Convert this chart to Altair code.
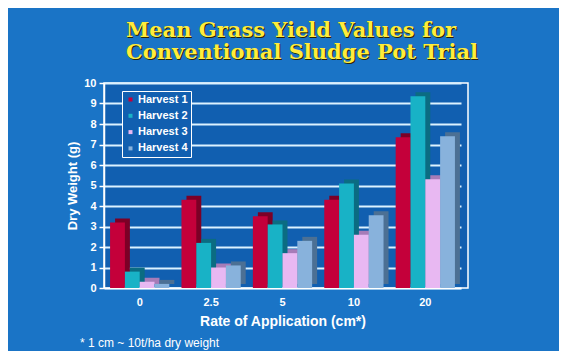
import altair as alt
import pandas as pd

rates = ["0", "2.5", "5", "10", "20"]
harvests = ["Harvest 1", "Harvest 2", "Harvest 3", "Harvest 4"]
h1 = [3.2, 4.3, 3.5, 4.3, 7.35]
h2 = [0.8, 2.2, 3.1, 5.1, 9.35]
h3 = [0.3, 1.0, 1.7, 2.6, 5.3]
h4 = [0.2, 1.1, 2.3, 3.55, 7.4]

front_colors = ["#c4003a", "#18b2c6", "#e8b8f2", "#88b2dc"]
side_colors = ["#7c0026", "#0b6c82", "#a67cb8", "#4c7094"]

title_lines = "Mean Grass Yield Values for\nConventional Sludge Pot Trial"
footnote = "* 1 cm ~ 10t/ha dry weight"

rows = []
for series_name, vals in zip(harvests, [h1, h2, h3, h4]):
    for r, v in zip(rates, vals):
        rows.append({"rate": r, "harvest": series_name, "value": v})
df = pd.DataFrame(rows)

BG = "#1a74c6"
PLOT_BG = "#115fb0"
FONT = "Liberation Sans"
BW = 357 / 5 * (1 - 0.17)

x_enc = alt.X("rate:N", sort=rates,
              scale=alt.Scale(range=[0, 357], paddingInner=0.17, paddingOuter=0.085),
              axis=alt.Axis(title="Rate of Application (cm*)", labelAngle=0, ticks=False,
                            labelPadding=8, titlePadding=7, labelFontSize=11,
                            labelFontWeight="bold", titleFontSize=14, titleFontWeight="bold",
                            labelColor="white", titleColor="white", domainColor="white",
                            domainWidth=1.5, labelFont=FONT, titleFont=FONT))
y_enc = alt.Y("value:Q", scale=alt.Scale(domain=[0, 10], nice=False),
              axis=alt.Axis(title="Dry Weight (g)", values=list(range(11)), tickSize=5,
                            tickColor="white", tickWidth=1.5, labelPadding=3,
                            titlePadding=4, labelFontSize=11, labelFontWeight="bold",
                            titleFontSize=13, titleFontWeight="bold", labelColor="white",
                            titleColor="white", domainColor="white", domainWidth=1.5,
                            gridColor="#dcf2ff", gridWidth=1.8, gridOpacity=1,
                            labelFont=FONT, titleFont=FONT))

side = alt.Chart(df).mark_bar(yOffset=-4, y2Offset=-4).encode(
    x=x_enc, y=y_enc,
    xOffset=alt.XOffset("harvest:N", sort=harvests, scale=alt.Scale(range=[5, BW + 5])),
    color=alt.Color("harvest:N", sort=harvests,
                    scale=alt.Scale(domain=harvests, range=side_colors), legend=None),
)

front = alt.Chart(df).mark_bar().encode(
    x=x_enc, y=y_enc,
    xOffset=alt.XOffset("harvest:N", sort=harvests, scale=alt.Scale(range=[0, BW])),
    color=alt.Color("harvest:N", sort=harvests,
                    scale=alt.Scale(domain=harvests, range=front_colors),
                    legend=alt.Legend(title=None, orient="none", legendX=18, legendY=8,
                                      symbolType="square", symbolSize=16,
                                      symbolStrokeWidth=0, labelColor="white",
                                      labelFontSize=11, labelFontWeight="bold",
                                      labelFont=FONT, rowPadding=4.3, padding=3,
                                      strokeColor="white", fillColor=PLOT_BG,
                                      labelOffset=2)),
)

tdf = pd.DataFrame({"t": [title_lines]})
shadow = alt.Chart(tdf).mark_text(align="left", baseline="alphabetic", font="DejaVu Serif",
                                  fontWeight="bold", fontSize=21, lineBreak="\n",
                                  lineHeight=22, color="#2a2200").encode(
    text="t:N", x=alt.value(23), y=alt.value(-45))
title = alt.Chart(tdf).mark_text(align="left", baseline="alphabetic", font="DejaVu Serif",
                                 fontWeight="bold", fontSize=21, lineBreak="\n",
                                 lineHeight=22, color="#ffec3c").encode(
    text="t:N", x=alt.value(22), y=alt.value(-46))

fdf = pd.DataFrame({"t": [footnote]})
foot = alt.Chart(fdf).mark_text(align="left", baseline="alphabetic", font=FONT,
                                fontSize=12, color="white").encode(
    text="t:N", x=alt.value(-24), y=alt.value(264))

chart = alt.layer(side, front, shadow, title, foot).resolve_scale(
    color="independent", xOffset="independent"
).properties(
    width=364, height=205,
    autosize=alt.AutoSizeParams(type="none"),
    padding={"left": 96, "top": 75, "right": 91, "bottom": 63},
    background=BG,
).configure_view(fill=PLOT_BG, stroke="white", strokeWidth=1.5)

chart.save("out.html", embed_options={"renderer": "svg", "actions": False})
